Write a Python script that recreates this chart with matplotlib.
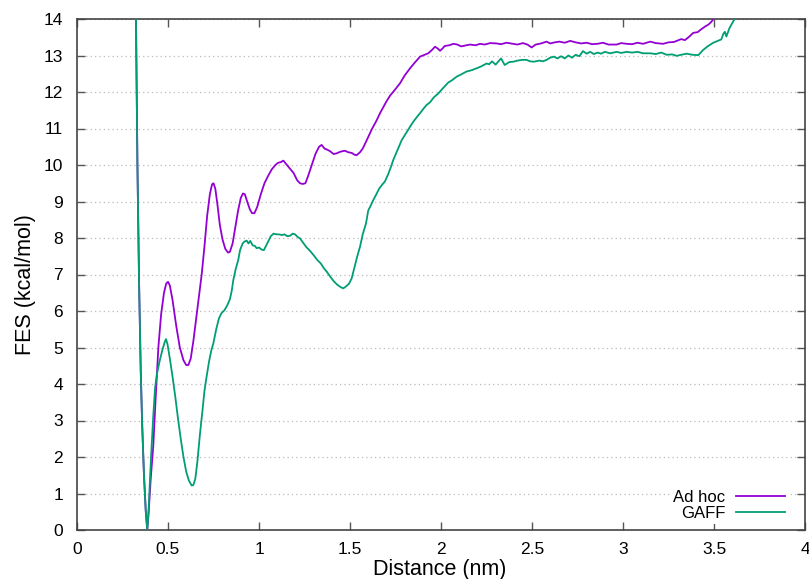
import matplotlib
matplotlib.use("Agg")
import matplotlib.pyplot as plt

plt.rcParams["font.family"] = ["Liberation Sans", "DejaVu Sans"]

# Ad hoc force field FES profile (nm, kcal/mol)
adhoc_x = [0.318, 0.324, 0.332, 0.341, 0.350, 0.358, 0.368, 0.378, 0.386, 0.394,
           0.405, 0.419, 0.432, 0.447, 0.462, 0.478, 0.490, 0.500, 0.510, 0.525,
           0.545, 0.565, 0.585, 0.600, 0.612, 0.625, 0.640, 0.655, 0.670, 0.685,
           0.700, 0.715, 0.730, 0.742, 0.750, 0.760, 0.772, 0.785, 0.800,
           0.815, 0.830, 0.840, 0.855, 0.870, 0.885, 0.900, 0.912, 0.922, 0.935,
           0.950, 0.962, 0.975, 0.990, 1.010, 1.030, 1.050, 1.070, 1.090, 1.105,
           1.120, 1.134, 1.150, 1.170, 1.190, 1.210, 1.225, 1.240, 1.255, 1.270,
           1.290, 1.310, 1.330, 1.344, 1.360, 1.375, 1.390, 1.410, 1.427, 1.445,
           1.460, 1.473, 1.490, 1.510, 1.525, 1.537, 1.555, 1.570, 1.592, 1.620,
           1.647, 1.665, 1.685, 1.700, 1.720, 1.745, 1.775, 1.800, 1.830, 1.855,
           1.885, 1.910, 1.930, 1.950, 1.967, 1.980, 1.995, 2.010, 2.020, 2.045,
           2.068, 2.090, 2.110, 2.130, 2.160, 2.190, 2.214, 2.240, 2.270, 2.306,
           2.330, 2.360, 2.397, 2.420, 2.450, 2.475, 2.498, 2.520, 2.550, 2.580,
           2.600, 2.625, 2.650, 2.680, 2.710, 2.740, 2.770, 2.800, 2.830, 2.860,
           2.890, 2.920, 2.965, 2.990, 3.020, 3.050, 3.080, 3.110, 3.150, 3.180,
           3.220, 3.250, 3.280, 3.295, 3.320, 3.340, 3.360, 3.386, 3.410, 3.430,
           3.450, 3.470, 3.485, 3.500, 3.520]
adhoc_y = [15.0, 14.0, 10.0, 6.8, 4.4, 2.9, 1.5, 0.5, 0.0, 0.5,
           1.4, 2.3, 3.6, 5.0, 5.9, 6.5, 6.75, 6.80, 6.7, 6.3,
           5.6, 5.0, 4.65, 4.52, 4.52, 4.7, 5.2, 5.8, 6.4, 7.0,
           7.75, 8.6, 9.2, 9.47, 9.50, 9.35, 8.9, 8.35, 7.95,
           7.7, 7.6, 7.62, 7.85, 8.3, 8.75, 9.1, 9.22, 9.2, 9.0,
           8.78, 8.68, 8.68, 8.85, 9.2, 9.5, 9.7, 9.88, 10.0, 10.06,
           10.08, 10.12, 10.02, 9.9, 9.78, 9.58, 9.5, 9.48, 9.5, 9.7,
           10.0, 10.3, 10.5, 10.55, 10.45, 10.42, 10.38, 10.3, 10.32, 10.36,
           10.38, 10.39, 10.35, 10.33, 10.28, 10.27, 10.35, 10.45, 10.68, 10.98,
           11.23, 11.42, 11.6, 11.74, 11.9, 12.05, 12.24, 12.45, 12.65, 12.8,
           12.97, 13.02, 13.06, 13.15, 13.24, 13.20, 13.13, 13.2, 13.26, 13.28,
           13.32, 13.3, 13.25, 13.27, 13.3, 13.28, 13.32, 13.3, 13.34, 13.33,
           13.31, 13.35, 13.32, 13.3, 13.34, 13.3, 13.22, 13.3, 13.33, 13.38,
           13.33, 13.36, 13.38, 13.35, 13.4, 13.36, 13.33, 13.35, 13.31, 13.32,
           13.35, 13.30, 13.3, 13.34, 13.32, 13.31, 13.35, 13.32, 13.38, 13.34,
           13.32, 13.36, 13.37, 13.4, 13.45, 13.42, 13.5, 13.62, 13.64, 13.72,
           13.79, 13.85, 13.92, 14.02, 14.3]

# GAFF FES profile
gaff_x = [0.318, 0.324, 0.332, 0.341, 0.350, 0.358, 0.368, 0.378, 0.386, 0.394,
          0.402, 0.410, 0.420, 0.429, 0.440, 0.455, 0.470, 0.482, 0.489, 0.497,
          0.510, 0.525, 0.540, 0.555, 0.570, 0.585, 0.600, 0.615, 0.630, 0.639,
          0.650, 0.662, 0.675, 0.690, 0.700, 0.712, 0.725, 0.737, 0.749, 0.765,
          0.780, 0.795, 0.810, 0.825, 0.840, 0.850, 0.859, 0.872, 0.886, 0.896,
          0.910, 0.920, 0.932, 0.942, 0.952, 0.965, 0.978, 0.987, 1.000, 1.015,
          1.027, 1.045, 1.065, 1.080, 1.095, 1.110, 1.125, 1.140, 1.155, 1.170,
          1.185, 1.198, 1.212, 1.225, 1.245, 1.260, 1.280, 1.300, 1.320, 1.340,
          1.355, 1.372, 1.390, 1.410, 1.430, 1.450, 1.463, 1.480, 1.495, 1.509,
          1.525, 1.540, 1.555, 1.570, 1.588, 1.600, 1.615, 1.628, 1.645, 1.660,
          1.675, 1.692, 1.710, 1.725, 1.738, 1.760, 1.784, 1.805, 1.830, 1.850,
          1.870, 1.885, 1.905, 1.920, 1.940, 1.960, 1.985, 2.010, 2.040, 2.060,
          2.086, 2.110, 2.140, 2.170, 2.196, 2.220, 2.250, 2.265, 2.280, 2.300,
          2.330, 2.350, 2.375, 2.397, 2.420, 2.445, 2.470, 2.490, 2.510, 2.540,
          2.560, 2.580, 2.600, 2.620, 2.640, 2.660, 2.680, 2.700, 2.720, 2.740,
          2.760, 2.780, 2.800, 2.820, 2.840, 2.860, 2.880, 2.900, 2.930, 2.965,
          2.990, 3.020, 3.050, 3.080, 3.110, 3.150, 3.180, 3.210, 3.240, 3.270,
          3.295, 3.320, 3.350, 3.380, 3.414, 3.440, 3.465, 3.496, 3.520, 3.540,
          3.552, 3.560, 3.568, 3.585, 3.615, 3.640]
gaff_y = [15.0, 14.0, 10.0, 6.8, 4.4, 2.9, 1.5, 0.5, 0.0, 0.6,
          1.5, 2.3, 3.2, 3.9, 4.3, 4.65, 4.95, 5.15, 5.23, 5.1,
          4.7, 4.2, 3.65, 3.05, 2.5, 2.0, 1.6, 1.35, 1.22, 1.23,
          1.4, 1.9, 2.6, 3.3, 3.8, 4.2, 4.6, 4.9, 5.11, 5.5,
          5.8, 5.95, 6.02, 6.15, 6.32, 6.55, 6.85, 7.15, 7.4, 7.67,
          7.85, 7.9, 7.93, 7.85, 7.92, 7.8, 7.78, 7.72, 7.74, 7.68,
          7.67, 7.85, 8.05, 8.12, 8.1, 8.1, 8.08, 8.1, 8.05, 8.06,
          8.12, 8.1, 8.03, 7.99, 7.85, 7.75, 7.65, 7.53, 7.4, 7.3,
          7.18, 7.08, 6.95, 6.82, 6.72, 6.65, 6.62, 6.68, 6.75, 6.89,
          7.2, 7.5, 7.76, 8.1, 8.4, 8.75, 8.9, 9.04, 9.2, 9.35,
          9.45, 9.55, 9.75, 9.95, 10.14, 10.4, 10.68, 10.85, 11.05, 11.2,
          11.33, 11.42, 11.55, 11.64, 11.72, 11.85, 11.96, 12.1, 12.26, 12.32,
          12.42, 12.48, 12.56, 12.6, 12.65, 12.7, 12.78, 12.76, 12.84, 12.75,
          12.92, 12.74, 12.82, 12.83, 12.86, 12.88, 12.88, 12.84, 12.83, 12.86,
          12.84, 12.88, 12.94, 12.97, 12.92, 12.98, 12.92, 13.0, 12.94, 13.02,
          12.98, 13.12, 13.05, 13.1, 13.04, 13.08, 13.05, 13.1, 13.06, 13.1,
          13.07, 13.1, 13.08, 13.1, 13.06, 13.06, 13.04, 13.08, 13.02, 13.03,
          12.99, 13.02, 13.05, 13.02, 13.01, 13.15, 13.25, 13.35, 13.4, 13.44,
          13.6, 13.65, 13.52, 13.75, 14.02, 14.4]

x_ticks = [0, 0.5, 1, 1.5, 2, 2.5, 3, 3.5, 4]
x_labels = ["0", "0.5", "1", "1.5", "2", "2.5", "3", "3.5", "4"]
y_ticks = list(range(0, 15))

W, H = 809, 579
fig = plt.figure(figsize=(W / 100, H / 100), dpi=100)
fig.patch.set_facecolor("white")
# axes box in pixels: left 77, right 805, top 19, bottom 530
ax = fig.add_axes([77 / W, (H - 530) / H, (805 - 77) / W, (530 - 19) / H])

ax.plot(adhoc_x, adhoc_y, color="#9400d3", lw=1.3, label="Ad hoc", zorder=3)
ax.plot(gaff_x, gaff_y, color="#009e73", lw=1.3, label="GAFF", zorder=3)

ax.set_xlim(0, 4)
ax.set_ylim(0, 14)
ax.set_xticks(x_ticks)
ax.set_xticklabels(x_labels)
ax.set_yticks(y_ticks)
ax.set_yticklabels([str(t) for t in y_ticks])
ax.tick_params(direction="in", length=6, width=1, color="#555555",
               top=True, right=True, labelsize=12.5, pad=9)
ax.tick_params(axis="y", pad=10)
for sp in ax.spines.values():
    sp.set_color("#444444")
    sp.set_linewidth(1.2)
ax.yaxis.grid(True, color="#bbbbbb", linestyle=(0, (1, 2.5)), lw=0.9)
ax.set_axisbelow(True)

fig.text(440 / W, 1 - 570 / H, "Distance (nm)", fontsize=15.5,
         ha="center", va="center")
fig.text(25 / W, 1 - 285 / H, "FES (kcal/mol)", fontsize=15.5,
         ha="center", va="center", rotation=90)

leg = ax.legend(loc="lower right", bbox_to_anchor=((788 - 77) / 728, 0.012),
                borderaxespad=0, markerfirst=False, frameon=True,
                fancybox=False, edgecolor="none", facecolor="white",
                framealpha=1, fontsize=12, handlelength=2.95,
                handletextpad=0.6, labelspacing=0.05, borderpad=0.2)
for t in leg.get_texts():
    t.set_ha("right")

fig.savefig("out.png", dpi=100, facecolor="white")
